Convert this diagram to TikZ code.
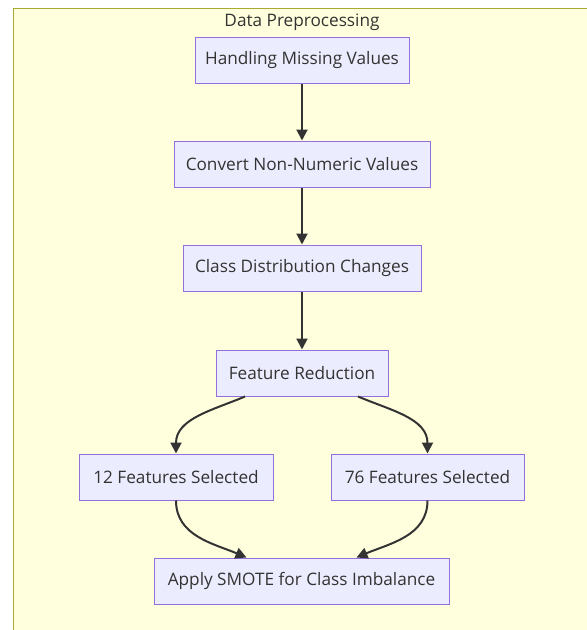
\documentclass[tikz,border=0pt]{standalone}
\usepackage{fontspec}
\setmainfont{Open Sans}
\usetikzlibrary{positioning}
\usetikzlibrary{arrows.meta}
\definecolor{procfill}{HTML}{ECECFF}
\definecolor{procline}{HTML}{9370DB}
\definecolor{clusterfill}{HTML}{FFFFDE}
\definecolor{clusterline}{HTML}{AAAA33}
\definecolor{ink}{HTML}{333333}
\tikzstyle{every link} = []
\tikzstyle{link} = [-{Triangle[length=11pt,width=11pt]}, draw=ink, line width=2pt, every link]

\begin{document}
\begin{tikzpicture}[x=1pt,y=-1pt]
                    \tikzstyle{every node} = [font=\fontsize{17.2}{20}\selectfont, text=ink]
                    \tikzstyle{proc} = [draw=procline, fill=procfill, line width=1pt, minimum height=46pt, inner sep=0pt]
                    \useasboundingbox (0,0) rectangle (587,630);
                    \draw[fill=clusterfill, draw=clusterline, line width=1pt] (13,8) rectangle (600,640);
                    \node (titel) at (302,22) {Data Preprocessing};

                    \node[proc, minimum width=214pt] (missing) at (302,60) {Handling Missing Values};
                    \node[proc, minimum width=256pt] (convert) at (302,164) {Convert Non-Numeric Values};
                    \node[proc, minimum width=238pt] (klassen) at (302,268) {Class Distribution Changes};
                    \node[proc, minimum width=172pt] (reduktion) at (302,373) {Feature Reduction};
                    \node[proc, minimum width=194pt] (zwoelf) at (176,477) {12 Features Selected};
                    \node[proc, minimum width=193pt] (sechsund) at (427.5,477) {76 Features Selected};
                    \node[proc, minimum width=295pt] (smote) at (301.5,581) {Apply SMOTE for Class Imbalance};

                    \draw[link] (missing) -- (convert);
                    \draw[link] (convert) -- (klassen);
                    \draw[link] (klassen) -- (reduktion);
                    \draw[link] ([xshift=-57pt]reduktion.south) to[out=203,in=90] (zwoelf.north);
                    \draw[link] ([xshift=56pt]reduktion.south) to[out=-23,in=90] (sechsund.north);
                    \draw[link] (zwoelf.south) to[out=-90,in=157] ([xshift=-55pt]smote.north);
                    \draw[link] (sechsund.south) to[out=-90,in=23] ([xshift=55pt]smote.north);
                \end{tikzpicture}
\end{document}
